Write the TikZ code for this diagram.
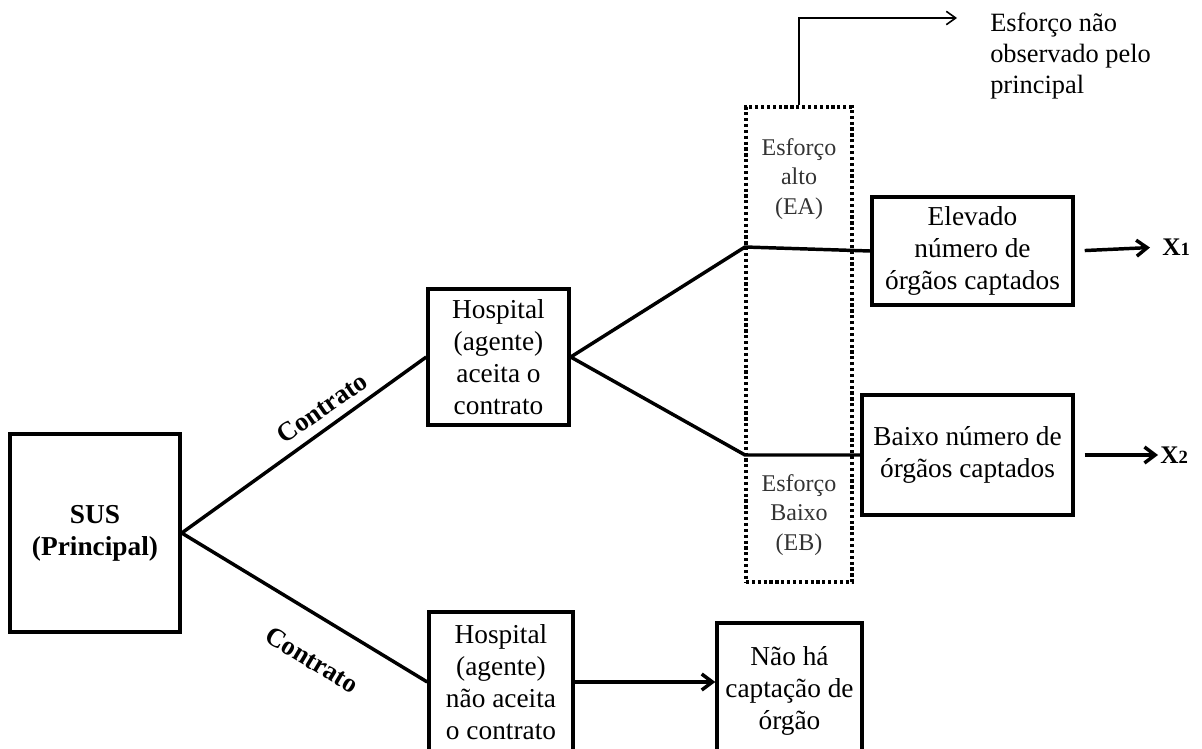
\documentclass[tikz,border=0pt]{standalone}
\usepackage{fontspec}
\setmainfont{Liberation Serif}
\usetikzlibrary{arrows.meta}
\tikzset{
 box/.style={draw, line width=2.6pt, inner sep=0pt, align=center, font=\fontsize{20.5}{24}\selectfont},
 bx/.style 2 args={minimum width=#1*0.75pt, minimum height=#2*0.75pt},
 conn/.style={line width=2.6pt},
 arr/.style={line width=2.6pt, -{Straight Barb[length=8pt,width=12pt]}},
 dotbox/.style={draw, line width=2.4pt, dash pattern=on 2.4pt off 2pt, inner sep=0pt},
 efx/.style={align=center, text=black!80, font=\fontsize{18}{22}\selectfont},
 lab/.style={font=\bfseries\fontsize{20}{22}\selectfont, inner sep=0pt},
 xl/.style={font=\bfseries\fontsize{19}{20}\selectfont, inner sep=0pt, anchor=west},
}
\begin{document}
\begin{tikzpicture}[x=0.75pt,y=-0.75pt]
\useasboundingbox (0,0) rectangle (1202,749);
\clip (0,0) rectangle (1202,749);

\node[box, bx={170}{198}, font=\bfseries\fontsize{20.5}{24}\selectfont] (sus) at (95,533) {SUS\\(Principal)};
\node[box, bx={141}{136}] (h1) at (498.5,357) {Hospital\\(agente)\\aceita o\\contrato};
\node[box, bx={144}{140}] (h2) at (501,682) {Hospital\\(agente)\\não aceita\\o contrato};
\node[box, bx={145}{136}] (nao) at (789.5,691) {Não há\\captação de\\órgão};
\node[box, bx={201}{108}] (elev) at (972.5,251) {Elevado\\número de\\órgãos captados};
\node[box, bx={211}{120}] (baixo) at (967.5,455) {Baixo número de\\órgãos captados};

\node[dotbox, bx={106}{475}] (dot) at (799,344.5) {};
\node[efx] (ea) at (799,179) {Esforço\\alto\\(EA)};
\node[efx] (eb) at (799,515) {Esforço\\Baixo\\(EB)};
\node[anchor=west, align=left, font=\fontsize{19.8}{23.25}\selectfont, inner sep=0pt] (note) at (990,56) {Esforço não\\observado pelo\\principal};
\coordinate (ntip) at (957,18);
\draw[line width=1.2pt, -{Straight Barb[length=7pt,width=10pt]}] (dot.north) |- (ntip);

\coordinate (ea1) at (745,247);
\coordinate (eb1) at (745,455);
\draw[conn] (sus.east) -- (h1.west);
\draw[conn] (sus.east) -- (h2.west);
\draw[conn] (h1.east) -- (ea1) -- (elev.west);
\draw[conn] (h1.east) -- (eb1) -- (baixo.west);
\draw[arr] (h2.east) -- (h2.east -| nao.west);

\node[lab, rotate=35] (c1) at (322,408) {Contrato};
\node[lab, rotate=-31] (c2) at (312,660) {Contrato};

\node[xl] (x1) at (1162,247) {X{\fontsize{14}{14}\selectfont 1}};
\node[xl] (x2) at (1160,455) {X{\fontsize{14}{14}\selectfont 2}};
\draw[arr, shorten <=7.5pt, shorten >=9pt] (elev.east) -- (x1.west);
\draw[arr, shorten <=7.5pt, shorten >=1.5pt] (baixo.east) -- (x2.west);
\end{tikzpicture}
\end{document}
